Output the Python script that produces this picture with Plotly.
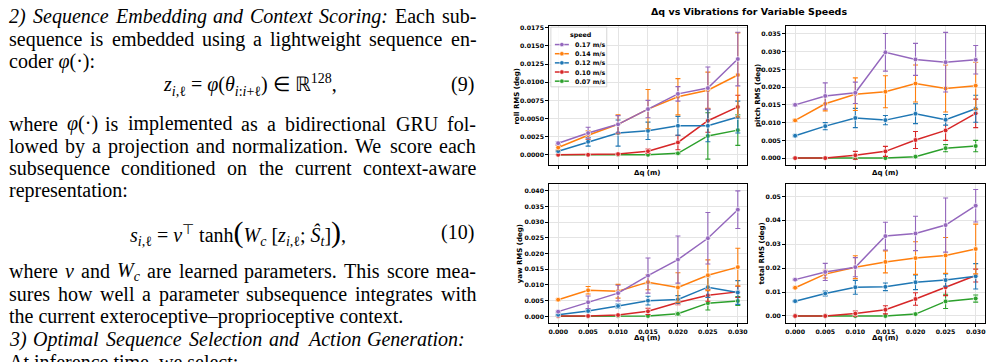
import plotly.graph_objects as go

W, H = 993, 362

# ------------------------------------------------------------------ data
dq = [0.000, 0.005, 0.010, 0.015, 0.020, 0.025, 0.030]
speeds = ["0.17 m/s", "0.14 m/s", "0.12 m/s", "0.10 m/s", "0.07 m/s"]
speed_colors = ["#9467bd", "#ff7f0e", "#1f77b4", "#d62728", "#2ca02c"]

roll_mean = [
    [0.0016, 0.0030, 0.0042, 0.0063, 0.0084, 0.0092, 0.0132],
    [0.0010, 0.0027, 0.0042, 0.0063, 0.0080, 0.0089, 0.0110],
    [0.0005, 0.0018, 0.0030, 0.0033, 0.0040, 0.0040, 0.0052],
    [0.0000, 0.0000, 0.0001, 0.0005, 0.0017, 0.0047, 0.0066],
    [0.0000, 0.0000, 0.0000, 0.0000, 0.0002, 0.0026, 0.0034],
]
roll_err = [
    [0.0002, 0.0008, 0.0012, 0.0012, 0.0010, 0.0029, 0.0037],
    [0.0003, 0.0006, 0.0013, 0.0027, 0.0025, 0.0025, 0.0058],
    [0.0001, 0.0006, 0.0018, 0.0012, 0.0013, 0.0022, 0.0022],
    [0.0000, 0.0000, 0.0001, 0.0003, 0.0010, 0.0016, 0.0016],
    [0.0000, 0.0000, 0.0000, 0.0000, 0.0001, 0.0032, 0.0021],
]
pitch_mean = [
    [0.0150, 0.0175, 0.0184, 0.0298, 0.0278, 0.0270, 0.0277],
    [0.0106, 0.0153, 0.0180, 0.0187, 0.0210, 0.0196, 0.0204],
    [0.0063, 0.0090, 0.0113, 0.0107, 0.0125, 0.0108, 0.0139],
    [0.0000, 0.0000, 0.0008, 0.0019, 0.0051, 0.0078, 0.0126],
    [0.0000, 0.0000, 0.0000, 0.0000, 0.0004, 0.0028, 0.0034],
]
pitch_err = [
    [0.0003, 0.0037, 0.0030, 0.0053, 0.0045, 0.0084, 0.0040],
    [0.0003, 0.0020, 0.0046, 0.0045, 0.0052, 0.0066, 0.0066],
    [0.0003, 0.0010, 0.0027, 0.0013, 0.0028, 0.0015, 0.0038],
    [0.0000, 0.0000, 0.0011, 0.0014, 0.0024, 0.0028, 0.0040],
    [0.0000, 0.0000, 0.0000, 0.0000, 0.0002, 0.0010, 0.0016],
]
yaw_mean = [
    [0.0015, 0.0045, 0.0074, 0.0130, 0.0181, 0.0249, 0.0340],
    [0.0053, 0.0083, 0.0080, 0.0109, 0.0092, 0.0131, 0.0157],
    [0.0005, 0.0017, 0.0033, 0.0050, 0.0054, 0.0093, 0.0076],
    [0.0001, 0.0001, 0.0004, 0.0016, 0.0044, 0.0067, 0.0078],
    [0.0000, 0.0000, 0.0001, 0.0001, 0.0008, 0.0042, 0.0049],
]
yaw_err = [
    [0.0003, 0.0020, 0.0025, 0.0056, 0.0075, 0.0082, 0.0060],
    [0.0003, 0.0012, 0.0022, 0.0024, 0.0047, 0.0049, 0.0060],
    [0.0002, 0.0004, 0.0006, 0.0014, 0.0012, 0.0033, 0.0038],
    [0.0000, 0.0000, 0.0002, 0.0010, 0.0007, 0.0019, 0.0018],
    [0.0000, 0.0000, 0.0000, 0.0001, 0.0005, 0.0022, 0.0014],
]
total_mean = [
    [0.0152, 0.0184, 0.0204, 0.0334, 0.0345, 0.0380, 0.0461],
    [0.0118, 0.0175, 0.0204, 0.0226, 0.0242, 0.0253, 0.0280],
    [0.0062, 0.0094, 0.0120, 0.0122, 0.0141, 0.0150, 0.0166],
    [0.0000, 0.0000, 0.0010, 0.0026, 0.0071, 0.0120, 0.0169],
    [0.0000, 0.0000, 0.0000, 0.0000, 0.0008, 0.0061, 0.0073],
]
total_err = [
    [0.0003, 0.0036, 0.0040, 0.0058, 0.0072, 0.0113, 0.0068],
    [0.0003, 0.0016, 0.0048, 0.0046, 0.0068, 0.0075, 0.0104],
    [0.0003, 0.0010, 0.0029, 0.0016, 0.0031, 0.0026, 0.0053],
    [0.0000, 0.0000, 0.0011, 0.0017, 0.0026, 0.0035, 0.0027],
    [0.0000, 0.0000, 0.0000, 0.0000, 0.0003, 0.0030, 0.0015],
]

x_ticks = [0.000, 0.005, 0.010, 0.015, 0.020, 0.025, 0.030]
x_tick_labels = ["0.000", "0.005", "0.010", "0.015", "0.020", "0.025", "0.030"]
roll_ticks = [0.0, 0.0025, 0.005, 0.0075, 0.01, 0.0125, 0.015, 0.0175]
roll_tick_labels = ["0.0000", "0.0025", "0.0050", "0.0075", "0.0100", "0.0125", "0.0150", "0.0175"]
pitch_ticks = [0.0, 0.005, 0.01, 0.015, 0.02, 0.025, 0.03, 0.035]
pitch_tick_labels = ["0.000", "0.005", "0.010", "0.015", "0.020", "0.025", "0.030", "0.035"]
yaw_ticks = [0.0, 0.005, 0.01, 0.015, 0.02, 0.025, 0.03, 0.035, 0.04]
yaw_tick_labels = ["0.000", "0.005", "0.010", "0.015", "0.020", "0.025", "0.030", "0.035", "0.040"]
total_ticks = [0.0, 0.01, 0.02, 0.03, 0.04, 0.05]
total_tick_labels = ["0.00", "0.01", "0.02", "0.03", "0.04", "0.05"]

chart_title = "Δq vs Vibrations for Variable Speeds"
x_title = "Δq (m)"
legend_title = "speed"

# ------------------------------------------------------------------ helpers
def px(x):
    return x / W

def py(y):
    return 1 - y / H

SANS = "DejaVu Sans"
SERIF = "Liberation Serif"

panels = [
    dict(name="roll RMS (deg)", mean=roll_mean, err=roll_err, yr=[-0.00146, 0.01777],
         ticks=roll_ticks, labels=roll_tick_labels,
         box=(549.3, 747.3, 24.0, 164.3), show_xlabels=False, ytx=517.0),
    dict(name="pitch RMS (deg)", mean=pitch_mean, err=pitch_err, yr=[-0.00205, 0.03724],
         ticks=pitch_ticks, labels=pitch_tick_labels,
         box=(786.7, 985.7, 24.0, 164.3), show_xlabels=False, ytx=758.0),
    dict(name="yaw RMS (deg)", mean=yaw_mean, err=yaw_err, yr=[-0.0021, 0.0423],
         ticks=yaw_ticks, labels=yaw_tick_labels,
         box=(549.3, 747.3, 182.7, 322.7), show_xlabels=True, ytx=520.0),
    dict(name="total RMS (deg)", mean=total_mean, err=total_err, yr=[-0.0029, 0.0553],
         ticks=total_ticks, labels=total_tick_labels,
         box=(786.7, 985.7, 182.7, 322.7), show_xlabels=True, ytx=762.7),
]

fig = go.Figure()
layout = dict(
    width=W, height=H, margin=dict(l=0, r=0, t=0, b=0),
    paper_bgcolor="white", plot_bgcolor="white", showlegend=False,
    font=dict(family=SANS, color="black"),
)
annotations = []
shapes = []

tickfont = dict(family=SANS, size=6.2, color="black", weight="bold")

for k, p in enumerate(panels):
    n = k + 1
    xa = "x" if n == 1 else f"x{n}"
    ya = "y" if n == 1 else f"y{n}"
    x0, x1, y0, y1 = p["box"]
    layout["xaxis" if n == 1 else f"xaxis{n}"] = dict(
        domain=[px(x0), px(x1)], anchor=ya, range=[-0.0015, 0.0315],
        tickvals=x_ticks, ticktext=x_tick_labels, showticklabels=p["show_xlabels"],
        ticks="outside", ticklen=3, tickwidth=0.8, tickcolor="black",
        showline=True, mirror=True, linecolor="black", linewidth=1,
        showgrid=True, gridcolor="#e4e4e4", gridwidth=0.8, zeroline=False,
        tickfont=tickfont,
    )
    layout["yaxis" if n == 1 else f"yaxis{n}"] = dict(
        domain=[py(y1), py(y0)], anchor=xa, range=p["yr"],
        tickvals=p["ticks"], ticktext=p["labels"],
        ticks="outside", ticklen=3, tickwidth=0.8, tickcolor="black",
        showline=True, mirror=True, linecolor="black", linewidth=1,
        showgrid=True, gridcolor="#e4e4e4", gridwidth=0.8, zeroline=False,
        tickfont=tickfont,
    )
    # draw ascending speed order (0.07 first, 0.17 last)
    for i in reversed(range(len(speeds))):
        fig.add_trace(go.Scatter(
            x=dq, y=p["mean"][i], xaxis=xa, yaxis=ya, mode="lines+markers",
            name=speeds[i],
            line=dict(color=speed_colors[i], width=1.5),
            marker=dict(size=4.8, color=speed_colors[i], line=dict(color="white", width=0.7)),
            error_y=dict(type="data", array=p["err"][i], visible=True,
                         color=speed_colors[i], thickness=1.1, width=2.5),
        ))
    # axis titles
    annotations.append(dict(
        text=x_title, x=px((x0 + x1) / 2), y=py(y1 + (7.7 if not p["show_xlabels"] else 15.0)),
        xref="paper", yref="paper", showarrow=False, xanchor="center", yanchor="middle",
        borderpad=0,
        font=dict(family=SANS, size=7, color="black", weight="bold"),
    ))
    annotations.append(dict(
        text=p["name"], x=px(p["ytx"]), y=py((y0 + y1) / 2),
        xref="paper", yref="paper", showarrow=False, xanchor="center", yanchor="middle",
        textangle=-90, font=dict(family=SANS, size=7, color="black", weight="bold"),
    ))

annotations.append(dict(
    text=chart_title, x=px(750), y=py(10), xref="paper", yref="paper", showarrow=False,
    xanchor="center", yanchor="middle",
    font=dict(family=SANS, size=9.5, color="black", weight="bold"),
))

# ---- legend (drawn by hand to match the compact matplotlib legend)
lx0, lx1, ly0, ly1 = 551.0, 607.0, 25.3, 85.3
shapes.append(dict(type="rect", xref="paper", yref="paper",
                   x0=px(lx0), x1=px(lx1), y0=py(ly1), y1=py(ly0),
                   fillcolor="rgba(255,255,255,0.85)", line=dict(color="#cccccc", width=0.8),
                   layer="above"))
annotations.append(dict(
    text=legend_title, x=px(581), y=py(33.6), xref="paper", yref="paper", showarrow=False,
    xanchor="center", yanchor="middle",
    font=dict(family=SANS, size=6.3, color="black", weight="bold"),
))
for i, s in enumerate(speeds):
    yy = 42.8 + 9.2 * i
    shapes.append(dict(type="line", xref="paper", yref="paper",
                       x0=px(555), x1=px(569), y0=py(yy), y1=py(yy),
                       line=dict(color=speed_colors[i], width=1.5), layer="above"))
    shapes.append(dict(type="circle", xref="paper", yref="paper",
                       x0=px(559.8), x1=px(564.2), y0=py(yy + 2.2), y1=py(yy - 2.2),
                       fillcolor=speed_colors[i], line=dict(color="white", width=0.6),
                       layer="above"))
    annotations.append(dict(
        text=s, x=px(573), y=py(yy), xref="paper", yref="paper", showarrow=False,
        xanchor="left", yanchor="middle",
        font=dict(family=SANS, size=6.3, color="black", weight="bold"),
    ))

# ------------------------------------------------------------------ text column
ROMAN = {
    'a': 444, 'b': 500, 'c': 444, 'd': 500, 'e': 444, 'f': 333, 'g': 500, 'h': 500, 'i': 278,
    'j': 278, 'k': 500, 'l': 278, 'm': 778, 'n': 500, 'o': 500, 'p': 500, 'q': 500, 'r': 333,
    's': 389, 't': 278, 'u': 500, 'v': 500, 'w': 722, 'x': 500, 'y': 500, 'z': 444,
    'A': 722, 'B': 667, 'C': 667, 'D': 722, 'E': 611, 'F': 556, 'G': 722, 'H': 722, 'I': 333,
    'R': 667, 'S': 556, 'T': 611, 'U': 722, 'W': 944, 'O': 722,
    '.': 250, ',': 250, ':': 278, ';': 278, '-': 333, '(': 333, ')': 333, '–': 500, ' ': 250,
}
ITAL = {
    'a': 500, 'b': 500, 'c': 444, 'd': 500, 'e': 444, 'f': 278, 'g': 500, 'h': 500, 'i': 278,
    'j': 278, 'k': 444, 'l': 278, 'm': 722, 'n': 500, 'o': 500, 'p': 500, 'q': 500, 'r': 389,
    's': 389, 't': 278, 'u': 500, 'v': 444, 'w': 667, 'x': 444, 'y': 444, 'z': 389,
    'A': 611, 'C': 667, 'E': 611, 'G': 722, 'O': 722, 'S': 500,
    ':': 333, '(': 333, ')': 333, ' ': 250,
}
FS = 20

def wordwidth(tok):
    if tok[1] == "h":
        return tok[2] * FS
    tab = ITAL if tok[1] == "i" else ROMAN
    return sum(tab.get(c, 500) for c in tok[0]) * FS / 1000.0

def tokhtml(tok):
    if tok[1] == "i":
        return "<i>" + tok[0] + "</i>"
    return tok[0]

def R(s):
    return [(w, "r") for w in s.split()]

def I(s):
    return [(w, "i") for w in s.split()]

def add_text(html, x, baseline, anchor="left", size=FS):
    annotations.append(dict(
        text=html, x=px(x), y=py(baseline - 0.34 * size), xref="paper", yref="paper",
        showarrow=False, xanchor=anchor, yanchor="middle", borderpad=0,
        font=dict(family=SERIF, size=size, color="black"),
    ))

def justify(tokens, baseline, left=7.0, right=475.0):
    widths = [wordwidth(t) for t in tokens]
    gap = (right - left - sum(widths)) / (len(tokens) - 1)
    x = left
    for t, w in zip(tokens, widths):
        add_text(tokhtml(t), x, baseline)
        x += w + gap

justify(I("2) Sequence Embedding and Context Scoring:") + R("Each sub-"), 21.3)
justify(R("sequence is embedded using a lightweight sequence en-"), 44.3)
add_text("coder <i>φ</i>(·):", 7, 67.0)
add_text("<i>z</i><sub><i>i</i>,ℓ</sub> = <i>φ</i>(<i>θ</i><sub><i>i</i>:<i>i</i>+ℓ</sub>) ∈ ℝ<sup>128</sup>,",
         250, 90.0, anchor="center")
add_text("(9)", 475, 90.0, anchor="right")
justify(R("where") + [("<i>φ</i>(·)", "h", 1.42)] + R("is implemented as a bidirectional GRU fol-"), 129.0)
justify(R("lowed by a projection and normalization. We score each"), 152.0)
justify(R("subsequence conditioned on the current context-aware"), 174.0)
add_text("representation:", 7, 196.0)
add_text("<i>s</i><sub><i>i</i>,ℓ</sub> = <i>v</i><sup>⊤</sup> tanh<span style='font-size:30px'>(</span>"
         "<i>W</i><sub><i>c</i></sub> [<i>z</i><sub><i>i</i>,ℓ</sub>; <i>Ŝ</i><sub><i>t</i></sub>]"
         "<span style='font-size:30px'>)</span>,",
         237, 238.3, anchor="center")
add_text("(10)", 475, 238.3, anchor="right")
justify(R("where") + [("v", "i")] + R("and") + [("<i>W</i><sub><i>c</i></sub>", "h", 1.15)]
        + R("are learned parameters. This score mea-"), 277.5)
justify(R("sures how well a parameter subsequence integrates with"), 300.5)
add_text("the current exteroceptive–proprioceptive context.", 7, 323.0)
justify(I("3) Optimal Sequence Selection and Action Generation:"), 346.0, right=463.0)
add_text("At inference time, we select:", 7, 368.5)

layout["annotations"] = annotations
layout["shapes"] = shapes
fig.update_layout(**layout)
fig.write_html("out.html")
